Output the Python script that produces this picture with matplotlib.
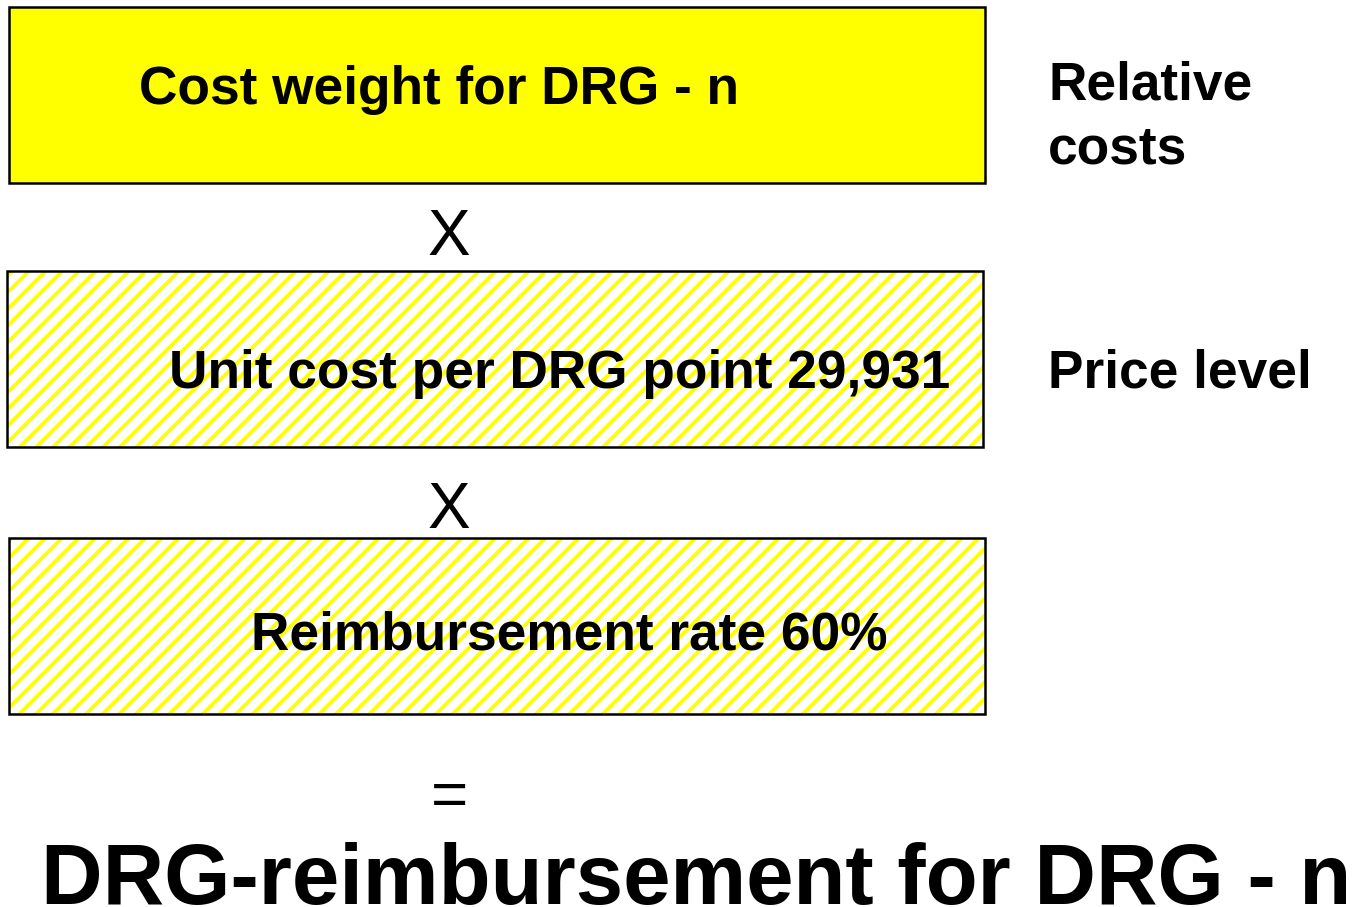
import matplotlib.pyplot as plt
from matplotlib.patches import Rectangle

# texte
box_labels = ["Cost weight for DRG - n", "Unit cost per DRG point 29,931", "Reimbursement rate 60%"]
side_labels = ["Relative", "costs", "Price level"]
operators = ["X", "X", "="]
result_label = "DRG-reimbursement for DRG - n"

plt.rcParams['font.family'] = ['Liberation Sans', 'DejaVu Sans']
plt.rcParams['hatch.linewidth'] = 2.7

W, H = 1355, 907
fig = plt.figure(figsize=(W / 100, H / 100), dpi=100)
ax = fig.add_axes([0, 0, 1, 1])
ax.set_xlim(0, W)
ax.set_ylim(H, 0)
ax.axis('off')

# pudelka (x, y, szer, wys) w pikselach
boxes = [(9, 7, 976, 176), (7, 271, 976, 176), (9, 538, 976, 176)]
text_pos = [(439, 104), (560, 388), (569, 650)]
hatched = [False, True, True]

for (x, y, w, h), lab, (tx, ty), hat in zip(boxes, box_labels, text_pos, hatched):
    if hat:
        ax.add_patch(Rectangle((x, y), w, h, facecolor='white', edgecolor='#FFFF00',
                               hatch='//', linewidth=0))
    else:
        ax.add_patch(Rectangle((x, y), w, h, facecolor='#FFFF00', linewidth=0))
    ax.add_patch(Rectangle((x, y), w, h, fill=False, edgecolor='black', linewidth=1.8))
    ax.text(tx, ty, lab, ha='center', va='baseline', fontsize=38.3, fontweight='bold')

for lab, y in zip(side_labels, [99, 163, 388]):
    ax.text(1048, y, lab, ha='left', va='baseline', fontsize=38.3, fontweight='bold')

# znaki dzialan
for op, y in zip(operators, [255, 528, 816]):
    ax.text(449, y, op, ha='center', va='baseline', fontsize=46)

ax.text(696, 904, result_label, ha='center', va='baseline', fontsize=61.3, fontweight='bold')

fig.savefig('out.png', dpi=100)
